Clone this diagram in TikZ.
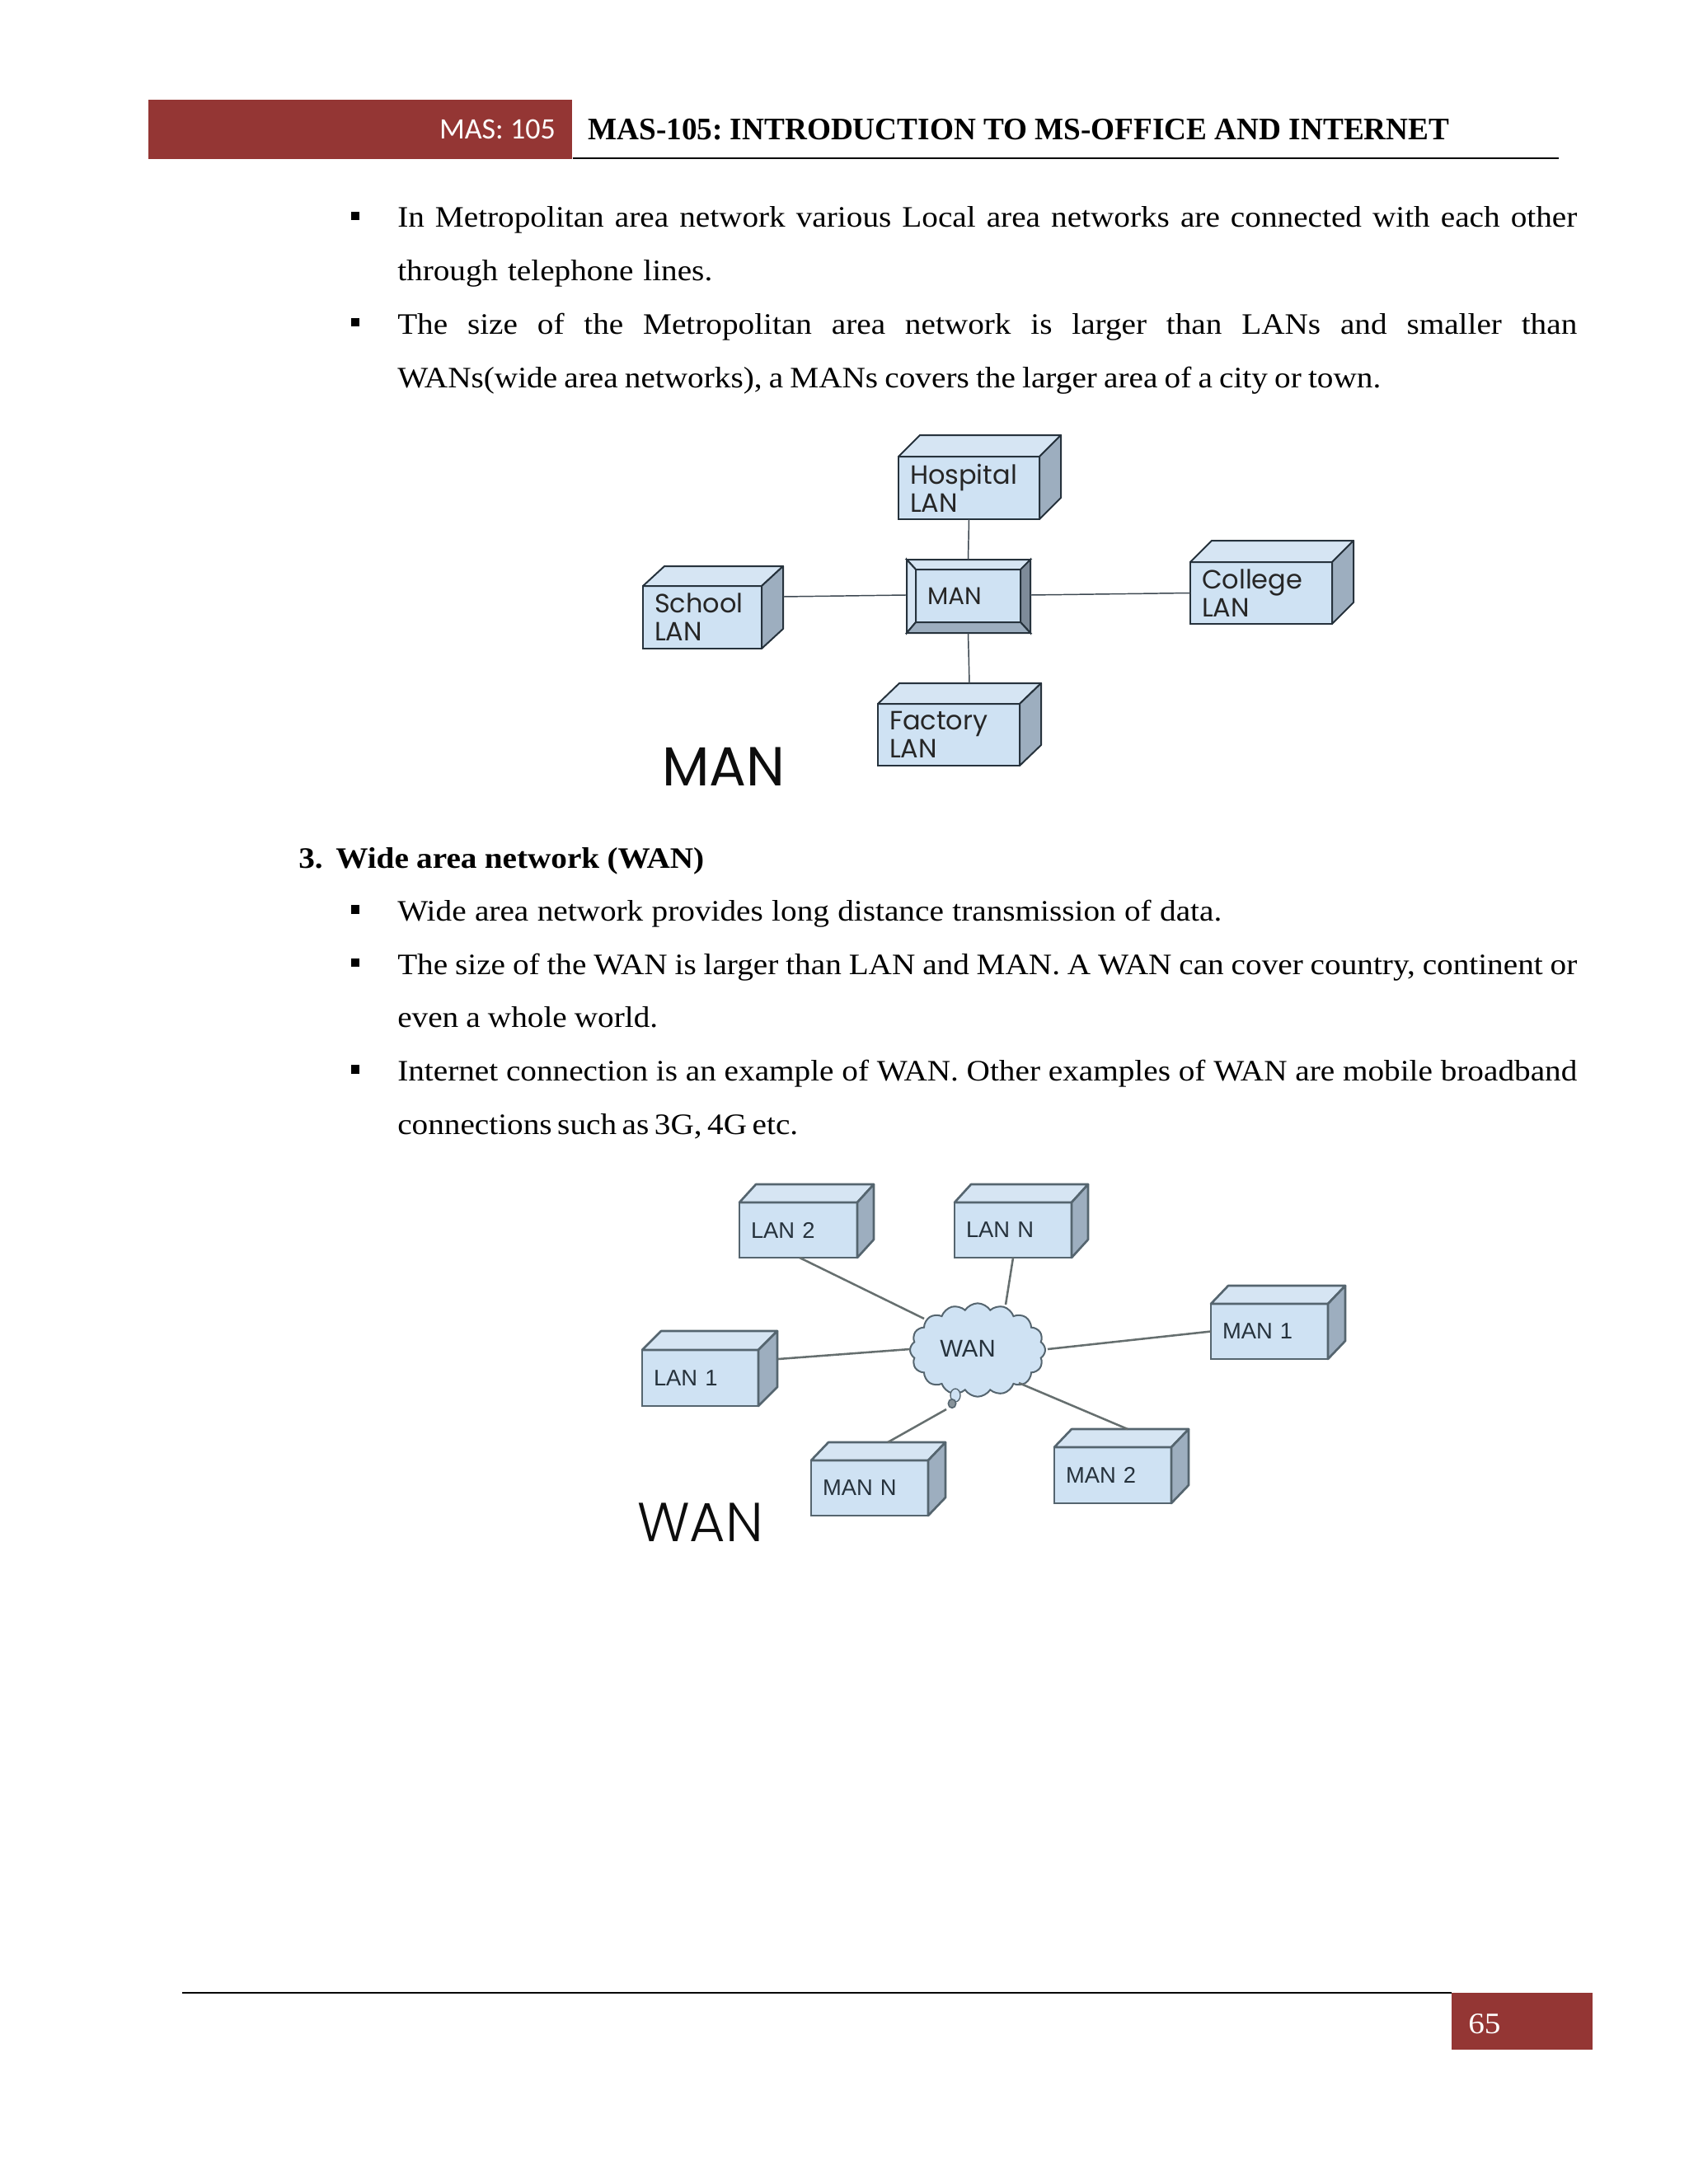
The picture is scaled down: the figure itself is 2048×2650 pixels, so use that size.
\documentclass[tikz,border=0pt]{standalone}
\usepackage{fontspec}
\usetikzlibrary{shapes.symbols,shapes.geometric}
\setmainfont[FakeStretch=1.09]{Liberation Serif}
\newfontfamily\titlefont[FakeStretch=0.98]{Liberation Serif}
\newfontfamily\hdfont{Carlito}
\newfontfamily\geofont{Poppins}
\newfontfamily\geolight{Poppins Light}
\newfontfamily\arfont{Liberation Sans}
\definecolor{hdred}{HTML}{943634}
\definecolor{boxfront}{HTML}{CFE2F3}
\definecolor{boxtop}{HTML}{D6E5F3}
\definecolor{boxside}{HTML}{9DAEBF}
\definecolor{manline}{HTML}{26323C}
\definecolor{wanline}{HTML}{55656F}
\definecolor{wanwire}{HTML}{666F6F}
\newlength\pxu
\setlength\pxu{0.75pt}
\tikzset{
  bodytext/.style={anchor=base west,inner sep=0pt,font=\frenchspacing\fontsize{27}{32}\selectfont},
  bullet/.style={fill=black,inner sep=0pt,minimum width=8.2pt,minimum height=8.2pt},
  manbox/.style={draw=manline,line width=1.5pt,font=\geofont\fontsize{24}{25.5}\selectfont,text=black!85},
  wanbox/.style={draw=wanline,line width=2pt,font=\arfont\fontsize{20.5}{25}\selectfont,text=manline},
  manlink/.style={draw=manline!90!white,line width=1.1pt},
  wanlink/.style={draw=wanwire,line width=1.9pt},
  biglabel/.style={anchor=base west,inner sep=0pt,font=\geofont\fontsize{50}{52}\selectfont,text=black!95},
}
\newcommand\netbox[9]{%
  \pgfmathsetmacro\bw{(#4-#2)}%
  \pgfmathsetmacro\bh{(#5-#3)}%
  \pgfmathsetmacro\bcx{(#4+#2)/2}%
  \pgfmathsetmacro\bcy{(#5+#3)/2}%
  \node[#8,fill=boxfront,outer sep=0pt,inner xsep=10.5pt,inner ysep=0pt,align=left,
        text width={(\bw-28)*0.75pt},minimum height={\bh*0.75pt}] (#1) at (\bcx,\bcy) {#9};
  \path[#8,fill=boxtop,line join=round] (#1.north west) -- ++(#6,-#7) -- ++(\bw,0) -- (#1.north east) -- cycle;
  \path[#8,fill=boxside,line join=round] (#1.north east) -- ++(#6,-#7) -- ++(0,\bh) -- (#1.south east) -- cycle;
}
\newcommand\jline[3]{\node[bodytext] (#1) at (482,#2) {\makebox[1431\pxu][s]{#3}};}
\newcommand\pline[4]{\node[bodytext] (#1) at (482,#2) {\makebox[#3\pxu][s]{#4}};}
\begin{document}
\begin{tikzpicture}[x=0.75pt,y=-0.75pt]
\useasboundingbox (0,0) rectangle (2048,2650);
% header
\node[fill=hdred,inner sep=0pt,minimum width=385.5pt,minimum height=54.5pt,anchor=north west] (hdbar) at (180,120.5) {};
\node[anchor=base east,inner sep=0pt,text=white,font=\hdfont\fontsize{27}{30}\selectfont] (hdnum) at (674,169) {MAS: 105};
\node[anchor=base west,inner sep=0pt,font=\frenchspacing\titlefont\bfseries\fontsize{28.5}{32}\selectfont] (hdtitle) at (713,170) {MAS-105: INTRODUCTION TO MS-OFFICE AND INTERNET};
\coordinate (hdend) at (1891,192);
\draw[line width=1.3pt] (hdbar.south east |- hdend) -- (hdend);
% first text block
\node[bullet] (b1) at (431,262) {};
\jline{t1}{276}{In Metropolitan area network various Local area networks are connected with each other}
\pline{t2}{340.7}{382}{through telephone lines.}
\node[bullet] (b2) at (431,391) {};
\jline{t3}{405.4}{The size of the Metropolitan area network is larger than LANs and smaller than}
\pline{t4}{470}{1193}{WANs(wide area networks), a MANs covers the larger area of a city or town.}
% MAN diagram
\netbox{hosp}{1090}{554}{1261}{630}{26}{26}{manbox}{Hospital\\LAN}
\netbox{school}{780}{711}{924}{787}{26}{24}{manbox}{School\\LAN}
\netbox{college}{1444}{682}{1616}{757}{26}{26}{manbox}{College\\LAN}
\netbox{factory}{1065}{854}{1237}{929}{26}{25}{manbox}{Factory\\LAN}
\node[manbox,fill=boxfront,outer sep=0pt,inner xsep=10.5pt,inner ysep=0pt,align=left,text width=74.25pt,minimum height=48pt,font=\geofont\fontsize{22}{25.5}\selectfont] (man) at (1174.5,723) {MAN};
\path[manbox,fill=boxtop] (man.north west) -- ++(-11,-12) -- ++(150,0) -- ++(-11,12) -- cycle;
\path[manbox,fill=boxtop] (man.north west) -- ++(-11,-12) -- ++(0,89) -- ++(11,-13) -- cycle;
\path[manbox,fill=boxside!80!black] (man.north east) -- ++(12,-12) -- ++(0,89) -- ++(-12,-13) -- cycle;
\path[manbox,fill=boxside] (man.south west) -- ++(-11,13) -- ++(150,0) -- ++(-12,-13) -- cycle;
\draw[manlink] (hosp.south) -- ([shift={(0,-12)}]man.north);
\draw[manlink] ([shift={(26,-25)}]school.east) -- ([shift={(-12,-1)}]man.west);
\draw[manlink] ([shift={(12,-1)}]man.east) -- (college.west);
\draw[manlink] ([shift={(0,13)}]man.south) -- ([shift={(25,-25)}]factory.north);
\node[biglabel] (manlabel) at (803,953) {MAN};
% section heading
\node[bodytext,font=\frenchspacing\bfseries\fontsize{27}{32}\selectfont] (h3) at (362,1053) {3.};
\node[bodytext,font=\frenchspacing\bfseries\fontsize{27}{32}\selectfont] (h3t) at (407,1053) {\makebox[447\pxu][s]{Wide area network (WAN)}};
% second text block
\node[bullet] (b3) at (431,1103.5) {};
\pline{t5}{1117.6}{1000}{Wide area network provides long distance transmission of data.}
\node[bullet] (b4) at (431,1168) {};
\jline{t6}{1182.2}{The size of the WAN is larger than LAN and MAN. A WAN can cover country, continent or}
\pline{t7}{1246.8}{316}{even a whole world.}
\node[bullet] (b5) at (431,1297.5) {};
\jline{t8}{1311.4}{Internet connection is an example of WAN. Other examples of WAN are mobile broadband}
\pline{t9}{1376}{485}{connections such as 3G, 4G etc.}
% WAN diagram
\netbox{lanb}{897}{1459}{1040}{1526}{20}{22}{wanbox}{LAN 2}
\netbox{lann}{1158}{1459}{1300}{1526}{20}{22}{wanbox}{LAN N}
\netbox{mana}{1469}{1582}{1611}{1649}{21}{22}{wanbox}{MAN 1}
\netbox{lana}{779}{1638}{920}{1706}{23}{23}{wanbox}{LAN 1}
\netbox{mann}{984}{1772}{1126}{1839}{21}{22}{wanbox}{MAN N}
\netbox{manb}{1279}{1756}{1421}{1824}{21}{22}{wanbox}{MAN 2}
\node[cloud,cloud puffs=16,cloud puff arc=115,aspect=1.45,draw=wanline,line width=1.5pt,fill=boxfront,inner sep=0pt,
      minimum width=123pt,minimum height=85pt] (wan) at (1186,1638) {};
\node[inner sep=0pt,text=manline,font=\arfont\fontsize{22}{25}\selectfont] (wantext) at (1174,1636) {WAN};
\node[ellipse,draw=wanline,line width=1pt,fill=boxfront,inner sep=0pt,minimum width=9pt,minimum height=12pt] (puffa) at (1159,1693) {};
\node[ellipse,draw=wanline,line width=1.2pt,fill=wanline!70!white,inner sep=0pt,minimum width=7pt,minimum height=8pt] (puffb) at (1155,1703) {};
\draw[wanlink] ([shift={(1.5,0)}]lanb.south) -- ([shift={(-65,-38)}]wan.center);
\draw[wanlink] (lann.south) -- ([shift={(34,-55)}]wan.center);
\draw[wanlink] (mana.west) -- ([shift={(85,-1)}]wan.center);
\draw[wanlink] ([shift={(24,-23)}]lana.east) -- ([shift={(-82,-1)}]wan.center);
\draw[wanlink] ([shift={(22,-22)}]mann.north) -- ([shift={(-38,72)}]wan.center);
\draw[wanlink] ([shift={(18,-22)}]manb.north) -- ([shift={(50,40)}]wan.center);
\node[biglabel,font=\geolight\fontsize{50}{52}\selectfont] (wanlabel) at (773,1870) {WAN};
% footer
\node[fill=hdred,inner sep=0pt,minimum width=128.25pt,minimum height=51.75pt,anchor=north west] (ftbar) at (1761,2418) {};
\coordinate (ftstart) at (221,2418);
\draw[line width=1.2pt] (ftstart) -- (ftbar.north west);
\node[bodytext,text=white] (ftnum) at (1781,2467) {65};
\end{tikzpicture}
\end{document}
